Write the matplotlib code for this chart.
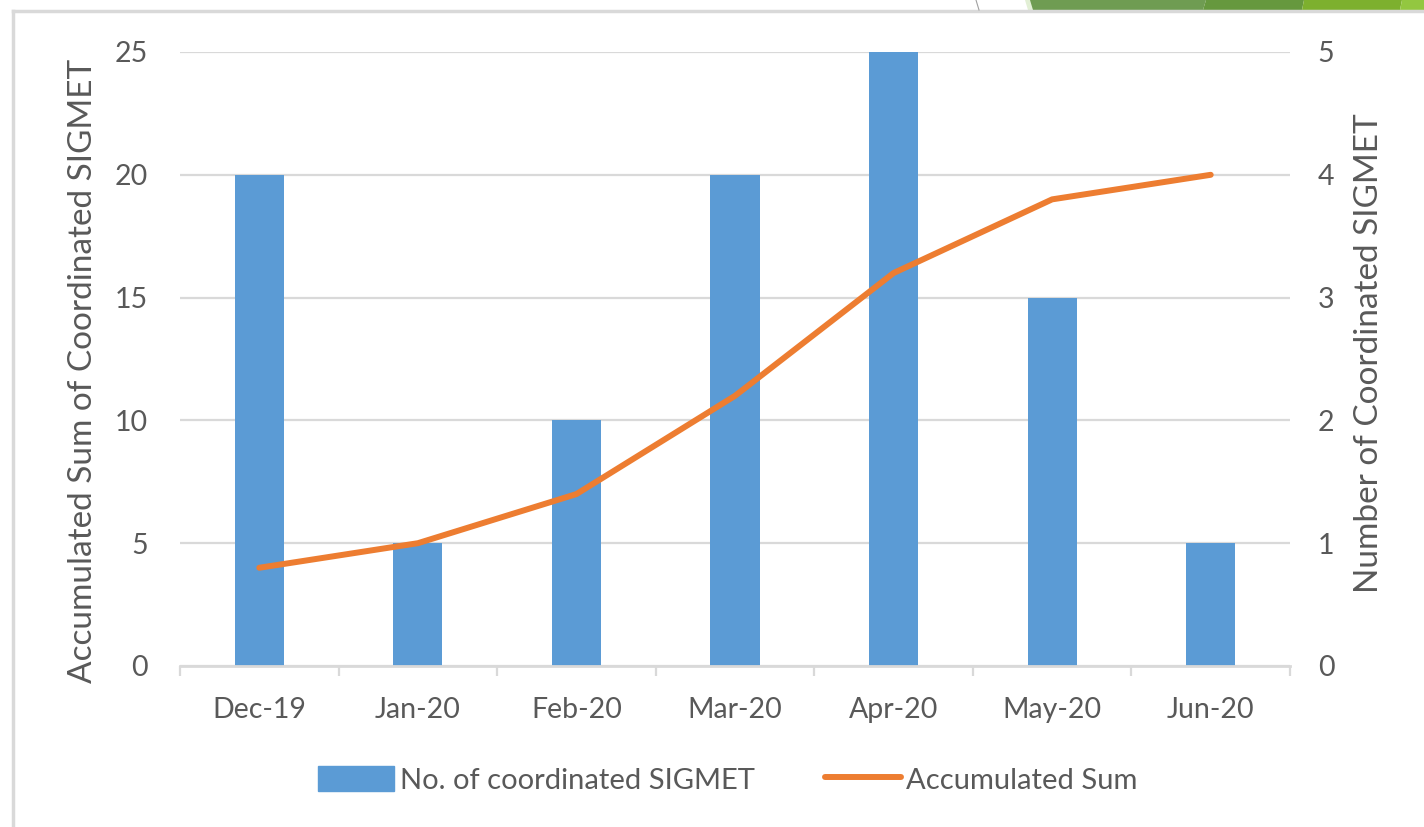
import matplotlib.pyplot as plt
from matplotlib.patches import Polygon, Patch
from matplotlib.lines import Line2D

# data
months = ['Dec-19', 'Jan-20', 'Feb-20', 'Mar-20', 'Apr-20', 'May-20', 'Jun-20']
n_sigmet = [4, 1, 2, 4, 5, 3, 1]
acc_sum = [4, 5, 7, 11, 16, 19, 20]

bar_col = '#5B9BD5'
line_col = '#ED7D31'
txt_col = '#595959'
grid_col = '#D9D9D9'
plt.rcParams['font.family'] = ['Lato', 'DejaVu Sans']

W, H = 1424, 827
fig = plt.figure(figsize=(W / 100, H / 100), dpi=100)

# slide decorations (frame + green banner at top right)
def px(x, y):
    return (x / W, 1 - y / H)

fig.add_artist(Line2D([13 / W, 13 / W], [0, 1 - 11 / H], color=grid_col, lw=2.5, transform=fig.transFigure))
fig.add_artist(Line2D([13 / W, 1], [1 - 11 / H, 1 - 11 / H], color=grid_col, lw=2.5, transform=fig.transFigure))
fig.add_artist(Line2D([976 / W, 979 / W], [1, 1 - 10 / H], color='#A0A0A0', lw=0.8, transform=fig.transFigure))
shapes = [
    ([1025, 1034, 1036, 1028], '#E2EFD5'),
    ([1030, 1206, 1203, 1033], '#6F9C52'),
    ([1206, 1304, 1302, 1203], '#66983E'),
    ([1304, 1402, 1400, 1302], '#7DB02E'),
    ([1402, 1424, 1424, 1400], '#93C740'),
]
for xs, c in shapes:
    pts = [px(xs[0], 0), px(xs[1], 0), px(xs[2], 10), px(xs[3], 10)]
    fig.add_artist(Polygon(pts, closed=True, color=c, transform=fig.transFigure, lw=0))

ax = fig.add_axes([180 / W, 1 - 666 / H, 1110 / W, 614 / H])
ax2 = ax.twinx()
# line axis above the bar axis
ax.set_zorder(ax2.get_zorder() + 1)
ax.patch.set_visible(False)

x = list(range(len(months)))
ax2.set_axisbelow(True)
ax2.bar(x, n_sigmet, width=0.31, color=bar_col)
ax2.set_ylim(0, 5)
ax2.set_yticks(range(0, 6))
ax2.yaxis.grid(True, color=grid_col, lw=1.6)

ax.plot(x, acc_sum, color=line_col, lw=4.3, solid_capstyle='round')
ax.set_ylim(0, 25)
ax.set_yticks(range(0, 26, 5))
ax.set_xlim(-0.5, len(months) - 0.5)
ax.set_xticks(x)
ax.set_xticklabels(months)
ax.set_xticks([i - 0.5 for i in range(len(months) + 1)], minor=True)
ax.tick_params(axis='x', which='major', length=0, pad=22, labelsize=20.5, labelcolor=txt_col)
ax.tick_params(axis='x', which='minor', length=7, width=1.6, color=grid_col)
ax.tick_params(axis='y', length=0, pad=23, labelsize=20.5, labelcolor=txt_col)
ax2.tick_params(axis='y', length=0, pad=20, labelsize=20.5, labelcolor=txt_col)

for a in (ax, ax2):
    for s in a.spines.values():
        s.set_visible(False)
ax.spines['bottom'].set_visible(True)
ax.spines['bottom'].set_color(grid_col)
ax.spines['bottom'].set_linewidth(2)

ax.set_ylabel('Accumulated Sum of Coordinated SIGMET', fontsize=24, color=txt_col, labelpad=12)
ax2.set_ylabel('Number of Coordinated SIGMET', fontsize=24, color=txt_col, labelpad=14)
ax.yaxis.label.set_y(0.48)
ax2.yaxis.label.set_y(0.51)

handles = [Patch(color=bar_col), Line2D([0], [0], color=line_col, lw=4.3, solid_capstyle='round')]
fig.legend(handles, ['No. of coordinated SIGMET', 'Accumulated Sum'], loc='center',
           bbox_to_anchor=(728 / W, 1 - 780 / H), ncol=2, frameon=False, fontsize=21,
           labelcolor=txt_col, handlelength=2.6, handleheight=0.9, handletextpad=0.2,
           columnspacing=2.4)

fig.savefig('out.png', dpi=100, facecolor='white')
